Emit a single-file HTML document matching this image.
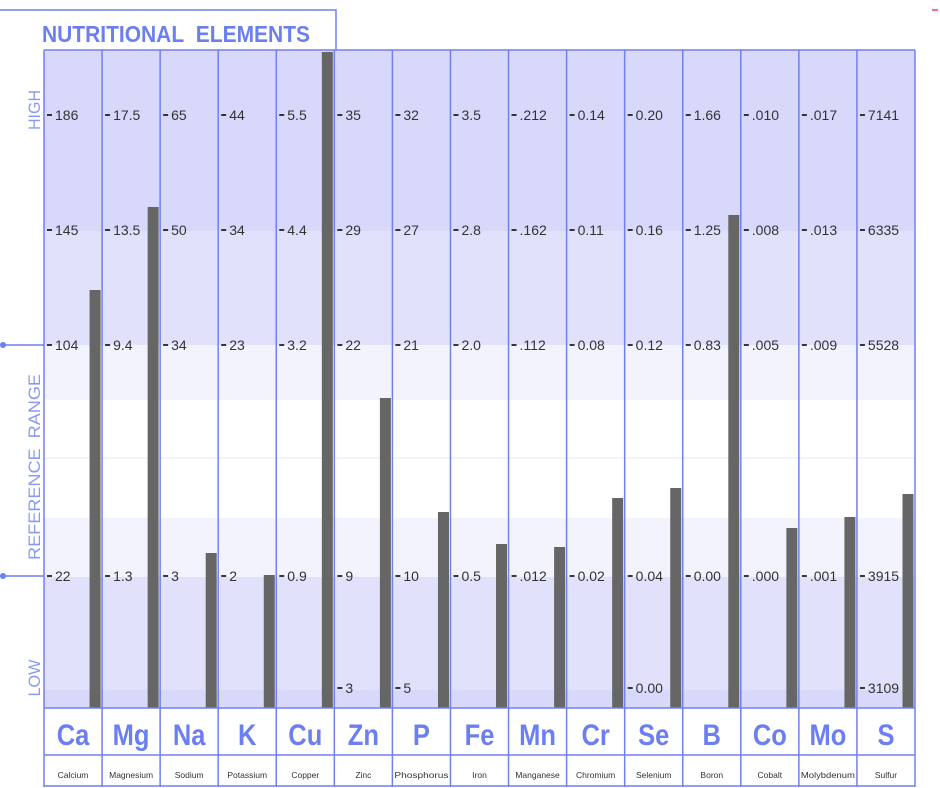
<!DOCTYPE html>
<html><head><meta charset="utf-8"><style>
html,body{margin:0;padding:0;background:#fff;}
svg{display:block;}
text{font-family:"Liberation Sans",Arial,sans-serif;}
</style></head><body>
<svg width="940" height="788" viewBox="0 0 940 788" xmlns="http://www.w3.org/2000/svg">
<rect x="932" y="9" width="6" height="2" fill="#ff66aa"/>
<polyline points="0,10 336,10 336,50" fill="none" stroke="#7080f0" stroke-width="1.5"/>
<text x="42" y="42" font-size="23" font-weight="bold" fill="#6b7ff0" textLength="268" lengthAdjust="spacingAndGlyphs">NUTRITIONAL&#160;&#160;ELEMENTS</text>
<rect x="44" y="50" width="871" height="181" fill="#d8d8fb"/>
<rect x="44" y="231" width="871" height="114" fill="#e1e1fc"/>
<rect x="44" y="345" width="871" height="55" fill="#f3f3fe"/>
<rect x="44" y="400" width="871" height="118" fill="#ffffff"/>
<rect x="44" y="457" width="871" height="2" fill="#f3f3fe"/>
<rect x="44" y="518" width="871" height="59" fill="#f3f3fe"/>
<rect x="44" y="577" width="871" height="113" fill="#e1e1fc"/>
<rect x="44" y="690" width="871" height="18" fill="#d8d8fb"/>
<line x1="4" y1="345" x2="44" y2="345" stroke="#6b7ff0" stroke-width="1.5"/>
<line x1="4" y1="576" x2="44" y2="576" stroke="#6b7ff0" stroke-width="1.5"/>
<circle cx="3" cy="345" r="3" fill="#6b7ff0"/>
<circle cx="3" cy="576" r="3" fill="#6b7ff0"/>
<text transform="translate(40,110) rotate(-90)" text-anchor="middle" font-size="17" fill="#8a9af2" textLength="40" lengthAdjust="spacingAndGlyphs">HIGH</text>
<text transform="translate(40,467) rotate(-90)" text-anchor="middle" font-size="17" fill="#8a9af2" textLength="186" lengthAdjust="spacingAndGlyphs">REFERENCE&#160;&#160;RANGE</text>
<text transform="translate(40,678) rotate(-90)" text-anchor="middle" font-size="17" fill="#8a9af2" textLength="37" lengthAdjust="spacingAndGlyphs">LOW</text>
<g id="cols"></g>
<line x1="44" y1="50" x2="915" y2="50" stroke="#7080f0" stroke-width="1.5"/>
<line x1="44" y1="708" x2="915" y2="708" stroke="#7080f0" stroke-width="1.5"/>
<line x1="44" y1="755" x2="915" y2="755" stroke="#7080f0" stroke-width="1.5"/>
<line x1="44" y1="786" x2="915" y2="786" stroke="#7080f0" stroke-width="1.5"/>
</svg>
<script>
var d=[
["Ca","Calcium",["186","145","104","22"],290,null],
["Mg","Magnesium",["17.5","13.5","9.4","1.3"],207,null],
["Na","Sodium",["65","50","34","3"],553,null],
["K","Potassium",["44","34","23","2"],575,null],
["Cu","Copper",["5.5","4.4","3.2","0.9"],52,null],
["Zn","Zinc",["35","29","22","9"],398,"3"],
["P","Phosphorus",["32","27","21","10"],512,"5"],
["Fe","Iron",["3.5","2.8","2.0","0.5"],544,null],
["Mn","Manganese",[".212",".162",".112",".012"],547,null],
["Cr","Chromium",["0.14","0.11","0.08","0.02"],498,null],
["Se","Selenium",["0.20","0.16","0.12","0.04"],488,"0.00"],
["B","Boron",["1.66","1.25","0.83","0.00"],215,null],
["Co","Cobalt",[".010",".008",".005",".000"],528,null],
["Mo","Molybdenum",[".017",".013",".009",".001"],517,null],
["S","Sulfur",["7141","6335","5528","3915"],494,"3109"]];
var ys=[115,230,345,576];
var s="";var w=871/15;
for(var i=0;i<15;i++){
 var x=44+w*i, r=x+w, c=d[i];
 s+='<rect x="'+(r-12.5)+'" y="'+c[3]+'" width="11" height="'+(708-c[3])+'" fill="#666"/>';
 var labs=c[2].map(function(v,j){return [ys[j],v];});
 if(c[4]) labs.push([688,c[4]]);
 labs.forEach(function(l){
  s+='<line x1="'+(x+3)+'" y1="'+l[0]+'" x2="'+(x+8)+'" y2="'+l[0]+'" stroke="#222" stroke-width="1.8"/>';
  s+='<text x="'+(x+11)+'" y="'+(l[0]+5)+'" font-size="14" fill="#333">'+l[1]+'</text>';
 });
 var cx=x+w/2;
 s+='<text x="'+cx+'" y="745" text-anchor="middle" font-size="30" font-weight="bold" fill="#6b7ff0" transform="translate('+cx+',0) scale(0.85,1) translate('+(-cx)+',0)">'+c[0]+'</text>';
 var fs=c[1].length>9?8.2:8.5;
 s+='<text x="'+cx+'" y="778" text-anchor="middle" font-size="'+fs+'" fill="#333"'+(c[1].length>9?' textLength="54" lengthAdjust="spacingAndGlyphs"':'')+'>'+c[1]+'</text>';
 s+='<line x1="'+x+'" y1="50" x2="'+x+'" y2="787" stroke="#7080f0" stroke-width="1.5"/>';
}
s+='<line x1="915" y1="50" x2="915" y2="787" stroke="#7080f0" stroke-width="1.5"/>';
document.getElementById("cols").innerHTML=s;
</script>
</body></html>
